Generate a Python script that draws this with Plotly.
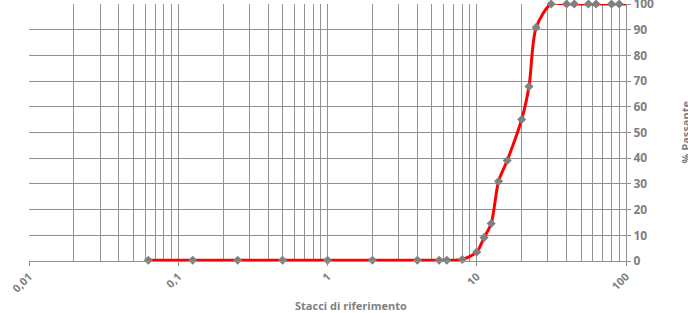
import plotly.graph_objects as go

sieve_mm = [0.063, 0.125, 0.25, 0.5, 1, 2, 4, 5.6, 6.3, 8, 10, 11.2, 12.5, 14, 16, 20, 22.4, 25,
            31.5, 40, 45, 56, 63, 80, 90, 100]
passing = [0.3, 0.3, 0.3, 0.3, 0.3, 0.3, 0.3, 0.3, 0.3, 0.6, 3.5, 9.1, 14.6, 31, 39.1, 55.1, 67.9, 90.9,
           100, 100, 100, 100, 100, 100, 100, 100]

x_ticks = [0.01, 0.1, 1, 10, 100]
x_ticktext = ["0,01", "0,1", "1", "10", "100"]
y_ticks = [0, 10, 20, 30, 40, 50, 60, 70, 80, 90, 100]

minor_vals = [m * d for d in [0.01, 0.1, 1, 10] for m in range(2, 10)]

grey = "#7f7f7f"
gridc = "#929292"
font = "Open Sans, sans-serif"

fig = go.Figure()
fig.add_trace(go.Scatter(
    x=sieve_mm, y=passing, mode="lines",
    line=dict(color="#ff0000", width=3, shape="spline", smoothing=0.8),
    hoverinfo="skip", showlegend=False, cliponaxis=False))
fig.add_trace(go.Scatter(
    x=sieve_mm[:-1], y=passing[:-1], mode="markers",
    marker=dict(symbol="diamond", size=7, color="#808080"),
    showlegend=False, cliponaxis=False))

fig.update_layout(
    width=688, height=313,
    margin=dict(l=29, r=62, t=4, b=52, autoexpand=False),
    paper_bgcolor="white", plot_bgcolor="white",
    font=dict(family=font, color=grey, size=11),
    xaxis=dict(
        type="log", range=[-2, 2], automargin=False,
        tickmode="array", tickvals=x_ticks, ticktext=x_ticktext,
        tickangle=-45, tickfont=dict(family=font, size=11, color=grey, weight="bold"),
        ticklabeloverflow="allow",
        showgrid=True, gridcolor=gridc, gridwidth=1,
        ticks="outside", ticklen=4, tickcolor=gridc,
        minor=dict(tickmode="array", tickvals=minor_vals, showgrid=True,
                   gridcolor=gridc, gridwidth=1, ticks=""),
        showline=True, linecolor=gridc, linewidth=1,
        zeroline=False,
    ),
    yaxis=dict(
        side="right", range=[0, 100], automargin=False,
        tickmode="array", tickvals=y_ticks,
        tickfont=dict(family=font, size=12, color=grey, weight="bold"),
        ticklabeloverflow="allow",
        showgrid=True, gridcolor=gridc, gridwidth=1,
        ticks="outside", ticklen=4, tickcolor=gridc,
        showline=True, linecolor=gridc, mirror=False, zeroline=False,
    ),
    annotations=[
        dict(text="<b>Stacci di riferimento</b>", xref="paper", yref="paper",
             x=0.54, y=0, yshift=-44, showarrow=False,
             font=dict(family=font, size=11, color=grey), yanchor="middle"),
        dict(text="<b>% Passante</b>", xref="paper", yref="paper",
             x=1, xshift=59, y=0.5, textangle=-90, showarrow=False,
             font=dict(family=font, size=11, color=grey), xanchor="center"),
    ],
)

fig.write_html("out.html", config={"displayModeBar": False},
               post_script="document.body.style.margin='0px';document.body.style.padding='0px';")
